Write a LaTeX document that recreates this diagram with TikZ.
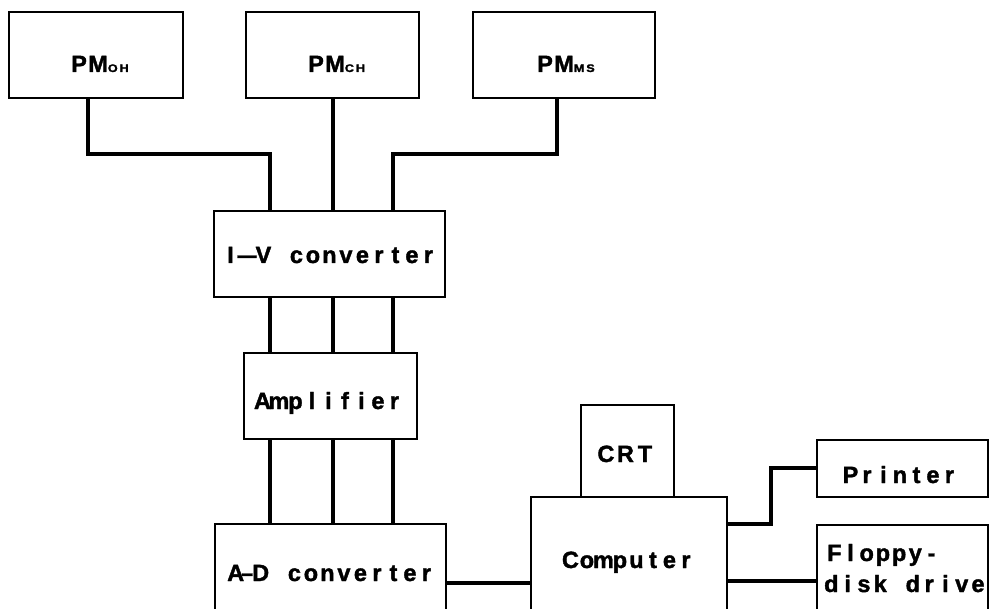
\documentclass[tikz,border=0pt]{standalone}
\usepackage{fontspec}
\usepackage{graphicx}
\newfontfamily\lblfont{Liberation Sans}[FakeBold=1.6]
\newcommand\fs[1]{\fontsize{#1}{#1}\selectfont}
\makeatletter
\newcommand\spaced[2][16.5pt]{\@tfor\@tmpc:=#2\do{\makebox[#1]{\@tmpc}}}
\makeatother
\newcommand\dsh[1][0.8]{\scalebox{#1}[1]{—}}
\newcommand\pmlabel[1]{PM{\fs{11}\addfontfeature{LetterSpace=15}\scalebox{1.15}[1]{#1}}}
\begin{document}
\begin{tikzpicture}[x=1pt,y=-1pt,
  box/.style={draw, line width=2.2pt, inner sep=0pt, outer sep=0pt},
  conn/.style={line width=3.4pt},
  lbl/.style={inner sep=0pt, anchor=base west, font=\lblfont\bfseries\fs{23.5}}]
\useasboundingbox (0,0) rectangle (990,609);
\clip (0,0) rectangle (990,609);
% boxes
\node[box, minimum width=174pt, minimum height=86pt] (pmoh) at (96,55) {};
\node[box, minimum width=173pt, minimum height=86pt] (pmch) at (332.5,55) {};
\node[box, minimum width=182pt, minimum height=86pt] (pmms) at (564,55) {};
\node[box, minimum width=231pt, minimum height=86pt] (iv) at (329.5,254) {};
\node[box, minimum width=173pt, minimum height=86pt] (amp) at (330.5,396) {};
\node[box, minimum width=231pt, minimum height=116pt] (ad) at (330.5,582) {};
\node[box, minimum width=93pt, minimum height=92pt] (crt) at (627.5,451) {};
\node[box, minimum width=196pt, minimum height=143pt] (comp) at (629,568.5) {};
\node[box, minimum width=171pt, minimum height=57pt] (printer) at (902.5,468.5) {};
\node[box, minimum width=171pt, minimum height=115pt] (floppy) at (902.5,582.5) {};
% labels
\node[lbl] (tpmoh) at (71,72) {\addfontfeature{LetterSpace=6}\pmlabel{OH}};
\node[lbl] (tpmch) at (308,72) {\addfontfeature{LetterSpace=6}\pmlabel{CH}};
\node[lbl] (tpmms) at (537,72) {\addfontfeature{LetterSpace=6}\pmlabel{MS}};
\node[lbl] (tiv) at (222,263) {\spaced{I\dsh V~converter}};
\node[lbl] (tad) at (227,581) {\makebox[15pt][l]{A}\makebox[10pt]{\dsh[0.45]}\makebox[17.5pt][l]{D}\spaced{~converter}};
\node[lbl] (tamp) at (254,409) {\spaced{Amplifier}};
\node[lbl] (tcrt) at (596,462) {\spaced[19.5pt]{CRT}};
\node[lbl] (tcomp) at (562,568) {\spaced{Computer}};
\node[lbl] (tprn) at (842,483) {\spaced{Printer}};
\node[lbl] (tfl1) at (826,561) {\spaced[16.2pt]{Floppy-}};
\node[lbl] (tfl2) at (823,592) {\spaced[16.3pt]{disk~drive}};
% connectors
\coordinate (a1) at (88,154);
\coordinate (b1) at (270,154);
\coordinate (b2) at (333,154);
\coordinate (b3) at (393,154);
\coordinate (a3) at (557,154);
\draw[conn] (pmoh.south -| a1) -- (a1) -- (b1) -- (b1 |- iv.north);
\draw[conn] (pmch.south -| b2) -- (b2 |- iv.north);
\draw[conn] (pmms.south -| a3) -- (a3) -- (b3) -- (b3 |- iv.north);
\foreach \b in {b1,b2,b3} {
  \draw[conn] (\b |- iv.south) -- (\b |- amp.north);
  \draw[conn] (\b |- amp.south) -- (\b |- ad.north);
}
\coordinate (h1) at (0,583);
\draw[conn] (ad.east |- h1) -- (comp.west |- h1);
\coordinate (p1) at (771,524);
\coordinate (p2) at (771,468);
\draw[conn] (comp.east |- p1) -- (p1) -- (p2) -- (printer.west |- p2);
\coordinate (h2) at (0,581);
\draw[conn] (comp.east |- h2) -- (floppy.west |- h2);
\end{tikzpicture}
\end{document}
